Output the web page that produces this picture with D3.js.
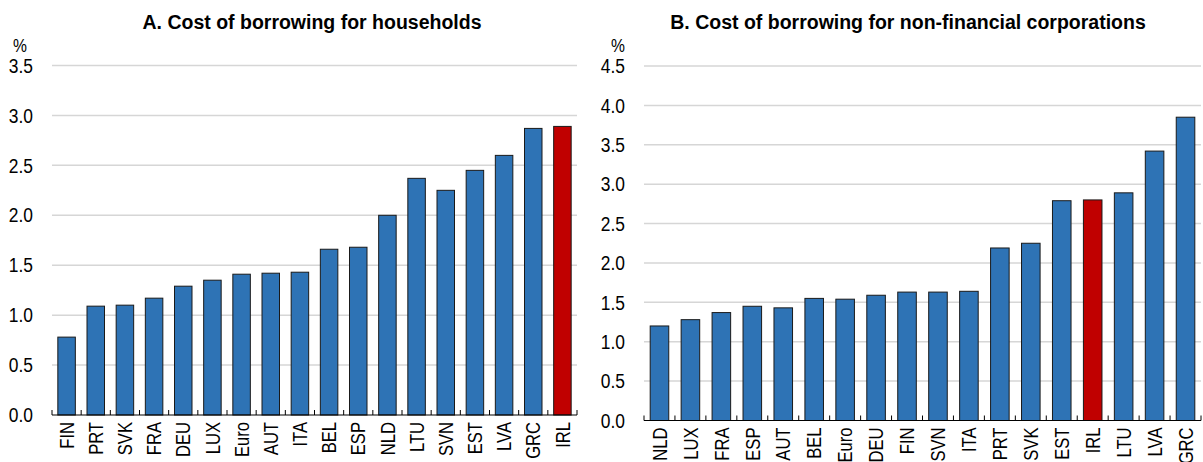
<!DOCTYPE html>
<html>
<head>
<meta charset="utf-8">
<script src="https://cdn.jsdelivr.net/npm/d3@7"></script>
<style>
  html, body { margin: 0; padding: 0; background: #fff; }
  svg text { font-family: "Liberation Sans", Arial, sans-serif; fill: #000; }
</style>
</head>
<body>
<svg id="chart" width="1203" height="462"></svg>
<script>
// ---- Data ----
const titleA = "A. Cost of borrowing for households";
const categoriesA = ["FIN","PRT","SVK","FRA","DEU","LUX","Euro","AUT","ITA","BEL","ESP","NLD","LTU","SVN","EST","LVA","GRC","IRL"];
const valuesA = [0.78,1.09,1.10,1.17,1.29,1.35,1.41,1.42,1.43,1.66,1.68,2.00,2.37,2.25,2.45,2.60,2.87,2.89];
const ticksA = [0,0.5,1.0,1.5,2.0,2.5,3.0,3.5];

const titleB = "B. Cost of borrowing for non-financial corporations";
const categoriesB = ["NLD","LUX","FRA","ESP","AUT","BEL","Euro","DEU","FIN","SVN","ITA","PRT","SVK","EST","IRL","LTU","LVA","GRC"];
const valuesB = [1.20,1.28,1.37,1.45,1.43,1.55,1.54,1.59,1.63,1.63,1.64,2.19,2.25,2.79,2.80,2.89,3.42,3.85];
const ticksB = [0,0.5,1.0,1.5,2.0,2.5,3.0,3.5,4.0,4.5];

const highlight = "IRL";

// ---- Drawing ----
const svg = d3.select("#chart");
const BLUE = "#2e73b5", RED = "#c00000";
const SX_TICK = 0.87, SX_LABEL = 0.83, SX_TITLE = 0.975;

function panel(cfg) {
  const g = svg.append("g");
  const x = d3.scaleBand().domain(cfg.cats).range([cfg.x0, cfg.x1]).paddingInner(0.4).paddingOuter(0.2);
  const y = d3.scaleLinear().domain([0, cfg.ymax]).range([cfg.yBase, cfg.yTop]);

  // gridlines
  g.selectAll("line.grid").data(cfg.ticks.filter(t => t > 0)).join("line")
    .attr("x1", cfg.x0).attr("x2", cfg.x1)
    .attr("y1", d => y(d)).attr("y2", d => y(d))
    .attr("stroke", "#d6d6d6").attr("stroke-width", 1.5);

  // y tick labels
  g.selectAll("text.yt").data(cfg.ticks).join("text")
    .attr("transform", d => `translate(${cfg.x0 - 19},${y(d)}) scale(${SX_TICK},1)`)
    .attr("dy", "0.36em")
    .attr("text-anchor", "end").attr("font-size", 20)
    .text(d => d3.format(".1f")(d));

  // % unit
  g.append("text")
    .attr("transform", `translate(${cfg.pctX},52) scale(${SX_TICK},1)`)
    .attr("font-size", 18).attr("text-anchor", "middle").text("%");

  // title
  g.append("text")
    .attr("transform", `translate(${cfg.titleX},29) scale(${SX_TITLE},1)`)
    .attr("text-anchor", "middle")
    .attr("font-size", 20).attr("font-weight", "bold").text(cfg.title);

  // bars
  g.selectAll("rect.bar").data(cfg.cats.map((c, i) => ({c, v: cfg.vals[i]}))).join("rect")
    .attr("x", d => x(d.c)).attr("width", x.bandwidth())
    .attr("y", d => y(d.v)).attr("height", d => y(0) - y(d.v))
    .attr("fill", d => d.c === highlight ? RED : BLUE)
    .attr("stroke", "#1a1a1a").attr("stroke-width", 1);

  // axis line
  g.append("line").attr("x1", cfg.x0).attr("x2", cfg.x1).attr("y1", y(0)).attr("y2", y(0))
    .attr("stroke", "#000").attr("stroke-width", 1);

  // ticks at category boundaries
  const bounds = d3.range(cfg.cats.length + 1).map(i => cfg.x0 + i * x.step());
  g.selectAll("line.tk").data(bounds).join("line")
    .attr("x1", d => d).attr("x2", d => d)
    .attr("y1", y(0)).attr("y2", y(0) - 5)
    .attr("stroke", "#000").attr("stroke-width", 1);

  // x labels
  g.selectAll("text.xl").data(cfg.cats).join("text")
    .attr("transform", d => `translate(${x(d) + x.bandwidth() / 2},${y(0) + 7}) rotate(-90) scale(${SX_LABEL},1)`)
    .attr("dy", "0.36em").attr("text-anchor", "end").attr("font-size", 20)
    .text(d => d);
}

panel({ title: titleA, cats: categoriesA, vals: valuesA, ticks: ticksA, ymax: 3.5,
        x0: 52, x1: 577, yBase: 415, yTop: 65.5, pctX: 20, titleX: 312 });
panel({ title: titleB, cats: categoriesB, vals: valuesB, ticks: ticksB, ymax: 4.5,
        x0: 644, x1: 1201, yBase: 420.5, yTop: 66, pctX: 618, titleX: 908 });
</script>
</body>
</html>
